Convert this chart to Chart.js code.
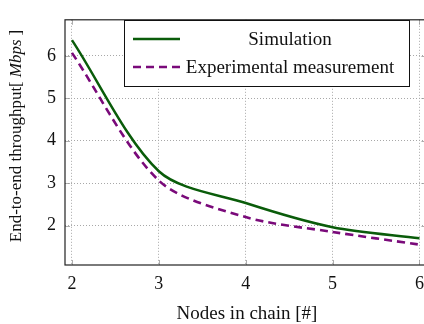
<!DOCTYPE html>
<html>
<head>
<meta charset="utf-8">
<script src="https://cdn.jsdelivr.net/npm/chart.js@4"></script>
<style>
  html, body { margin: 0; padding: 0; overflow: hidden; background: #fff; }
  #wrap { width: 432px; height: 324px; }
</style>
</head>
<body>
<div id="wrap"><canvas id="myLineChart" width="432" height="324"></canvas></div>
<script>
// chart data
var nodes = [2, 3, 4, 5, 6];
var simulation = [6.37, 3.28, 2.53, 1.96, 1.70];
var experimental = [6.07, 3.06, 2.20, 1.85, 1.55];
var xTicks = [2, 3, 4, 5, 6];
var yTicks = [2, 3, 4, 5, 6];
var seriesNames = ['Simulation', 'Experimental measurement'];

var serif = "'Liberation Serif', 'DejaVu Serif', serif";

function toPoints(xs, ys) {
  return xs.map(function (x, i) { return { x: x, y: ys[i] }; });
}

// frame, inner tick marks, legend box and axis titles like the pgfplots original
var paperPlugin = {
  id: 'paper',
  afterDraw: function (chart) {
    var ctx = chart.ctx;
    var a = chart.chartArea;
    var xs = chart.scales.x, ys = chart.scales.y;
    ctx.save();

    // inner tick marks
    ctx.strokeStyle = '#999';
    ctx.lineWidth = 0.8;
    ctx.beginPath();
    xTicks.forEach(function (t) {
      var px = Math.round(xs.getPixelForValue(t)) + 0.5;
      ctx.moveTo(px, a.bottom); ctx.lineTo(px, a.bottom - 5);
      ctx.moveTo(px, a.top); ctx.lineTo(px, a.top + 5);
    });
    yTicks.forEach(function (t) {
      var py = Math.round(ys.getPixelForValue(t)) + 0.5;
      ctx.moveTo(a.left, py); ctx.lineTo(a.left + 5, py);
      ctx.moveTo(a.right, py); ctx.lineTo(a.right - 5, py);
    });
    ctx.stroke();

    // frame
    ctx.strokeStyle = '#222';
    ctx.lineWidth = 1.2;
    ctx.strokeRect(a.left, a.top, a.right - a.left, a.bottom - a.top);

    // legend
    var lx = 124, ly = 20, lw = 285, lh = 66;
    ctx.fillStyle = '#fff';
    ctx.fillRect(lx, ly, lw, lh);
    ctx.strokeStyle = '#111';
    ctx.lineWidth = 1;
    ctx.strokeRect(lx + 0.5, ly + 0.5, lw, lh);
    ctx.font = '19px ' + serif;
    ctx.textBaseline = 'middle';
    ctx.textAlign = 'center';
    chart.data.datasets.forEach(function (ds, i) {
      var rowY = ly + 19 + i * 28;
      ctx.strokeStyle = ds.borderColor;
      ctx.lineWidth = ds.borderWidth;
      ctx.setLineDash(ds.borderDash || []);
      ctx.beginPath();
      ctx.moveTo(lx + 9, rowY); ctx.lineTo(lx + 56, rowY);
      ctx.stroke();
      ctx.setLineDash([]);
      ctx.fillStyle = '#111';
      ctx.fillText(ds.label, lx + 166, rowY + 1);
    });

    // x axis title
    ctx.font = '19px ' + serif;
    ctx.fillText('Nodes in chain [#]', 247, 314);

    // y axis title with italic unit
    ctx.translate(17, 136);
    ctx.rotate(-Math.PI / 2);
    ctx.fillStyle = '#111';
    ctx.textBaseline = 'middle';
    ctx.textAlign = 'left';
    var parts = [
      { t: 'End-to-end throughput[', f: '17px ' + serif },
      { t: 'Mbps', f: 'italic 17px ' + serif },
      { t: ']', f: '17px ' + serif }
    ];
    var total = 0;
    parts.forEach(function (p) { ctx.font = p.f; total += ctx.measureText(p.t).width + (p.t === 'Mbps' ? 8 : 0); });
    var cx = -total / 2;
    parts.forEach(function (p) {
      ctx.font = p.f;
      if (p.t === 'Mbps') cx += 4;
      ctx.fillText(p.t, cx, 0);
      cx += ctx.measureText(p.t).width;
      if (p.t === 'Mbps') cx += 4;
    });
    ctx.restore();
  }
};

var chartEl = document.getElementById('myLineChart');
let myLineChart = new Chart(chartEl, {
  type: 'line',
  data: {
    datasets: [{
      label: seriesNames[0],
      data: toPoints(nodes, simulation),
      borderColor: '#0a5c0a',
      borderWidth: 2.5,
      pointRadius: 0,
      fill: false,
      tension: 0.3
    }, {
      label: seriesNames[1],
      data: toPoints(nodes, experimental),
      borderColor: '#7a0a7a',
      borderWidth: 2.6,
      borderDash: [8, 5],
      pointRadius: 0,
      fill: false,
      tension: 0.3
    }]
  },
  options: {
    responsive: false,
    animation: false,
    layout: { padding: { top: 7, right: 2, left: 0, bottom: 0 } },
    plugins: {
      legend: { display: false },
      tooltip: { enabled: false }
    },
    scales: {
      x: {
        type: 'linear',
        min: 1.92,
        max: 6.08,
        afterBuildTicks: function (axis) { axis.ticks = xTicks.map(function (v) { return { value: v }; }); },
        afterFit: function (axis) { axis.height = 59; },
        grid: { color: '#a8a8a8', drawTicks: false, lineWidth: 1 },
        border: { display: false, dash: [1, 2] },
        ticks: { color: '#111', padding: 8, font: { family: serif, size: 18 }, maxRotation: 0 }
      },
      y: {
        type: 'linear',
        min: 1.07,
        max: 6.85,
        afterBuildTicks: function (axis) { axis.ticks = yTicks.map(function (v) { return { value: v }; }); },
        afterFit: function (axis) { axis.width = 65; },
        grid: { color: '#a8a8a8', drawTicks: false, lineWidth: 1 },
        border: { display: false, dash: [1, 2] },
        ticks: { color: '#111', padding: 9, font: { family: serif, size: 18 } }
      }
    }
  },
  plugins: [paperPlugin]
});
</script>
</body>
</html>
